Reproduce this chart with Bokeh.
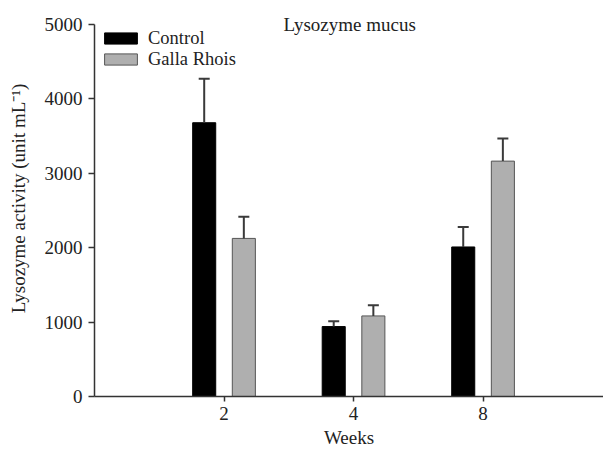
from bokeh.plotting import figure
from bokeh.models import (ColumnDataSource, Range1d, Legend, LegendItem, Label,
                          FixedTicker)
from bokeh.transform import dodge
from bokeh.embed import file_html
from bokeh.resources import INLINE

weeks = ["2", "4", "8"]
control = [3680, 940, 2010]
control_err = [590, 72, 267]
galla = [2125, 1083, 3164]
galla_err = [290, 143, 303]
title_text = "Lysozyme mucus"
y_label = "Lysozyme activity (unit mL\u207b\u00b9)"
x_label = "Weeks"
y_ticks = [0, 1000, 2000, 3000, 4000, 5000]

FONT = "Liberation Serif"
FS = "19px"

pos = list(range(1, len(weeks) + 1))
src = ColumnDataSource(dict(
    pos=pos,
    control=control,
    control_top=[v + e for v, e in zip(control, control_err)],
    galla=galla,
    galla_top=[v + e for v, e in zip(galla, galla_err)],
))

p = figure(width=603, height=455, output_backend="svg", toolbar_location=None,
           x_range=Range1d(0, 3.93), y_range=Range1d(0, 5323),
           min_border_left=94, min_border_right=0, min_border_top=0, min_border_bottom=59)
p.outline_line_color = None
p.xgrid.grid_line_color = None
p.ygrid.grid_line_color = None

off = 0.153
bw = 0.178
r_c = p.vbar(x=dodge("pos", -off), top="control", width=bw, source=src,
             fill_color="black", line_color="black", line_width=1)
r_g = p.vbar(x=dodge("pos", off), top="galla", width=bw, source=src,
             fill_color="#afafaf", line_color="#555555", line_width=1)

for o, lo, hi in [(-off, "control", "control_top"), (off, "galla", "galla_top")]:
    xs = dodge("pos", o)
    p.segment(x0=xs, y0=lo, x1=xs, y1=hi, source=src, line_color="#3a3a3a", line_width=2)
    p.scatter(x=xs, y=hi, marker="dash", size=11, source=src, line_color="#3a3a3a",
              line_width=2)

# axes
p.yaxis.ticker = FixedTicker(ticks=y_ticks)
p.yaxis.bounds = (0, 5000)
p.xaxis.ticker = FixedTicker(ticks=pos)
p.xaxis.major_label_overrides = {i: w for i, w in zip(pos, weeks)}
for ax in (p.xaxis[0], p.yaxis[0]):
    ax.axis_line_color = "#333333"
    ax.axis_line_width = 1.5
    ax.major_tick_line_color = "#333333"
    ax.major_tick_line_width = 1.5
    ax.major_tick_in = 0
    ax.minor_tick_line_color = None
    ax.major_label_text_font = FONT
    ax.major_label_text_font_size = FS
    ax.major_label_text_color = "#222222"
    ax.axis_label_text_font = FONT
    ax.axis_label_text_font_size = FS
    ax.axis_label_text_font_style = "normal"
    ax.axis_label_text_color = "#222222"
p.yaxis.major_tick_out = 6
p.xaxis.major_tick_out = 5
p.yaxis.major_label_standoff = 6
p.xaxis.major_label_standoff = 5
p.yaxis.axis_label = y_label
p.xaxis.axis_label = x_label
p.yaxis.axis_label_standoff = 13
p.xaxis.axis_label_standoff = 4

# title
p.add_layout(Label(x=1.97, y=5000, text=title_text, text_align="center",
                   text_baseline="alphabetic", text_font=FONT, text_font_size=FS,
                   text_color="#222222"))

legend = Legend(items=[LegendItem(label="Control", renderers=[r_c]),
                       LegendItem(label="Galla Rhois", renderers=[r_g])],
                location=(6, 326.5), orientation="vertical",
                glyph_width=41, glyph_height=14, label_standoff=7,
                label_text_font=FONT, label_text_font_size="18.5px",
                label_text_color="#222222",
                label_height=19, spacing=-2, padding=0, margin=0,
                border_line_color=None, background_fill_alpha=0)
p.add_layout(legend, "center")

open("out.html", "w").write(file_html(p, INLINE))
